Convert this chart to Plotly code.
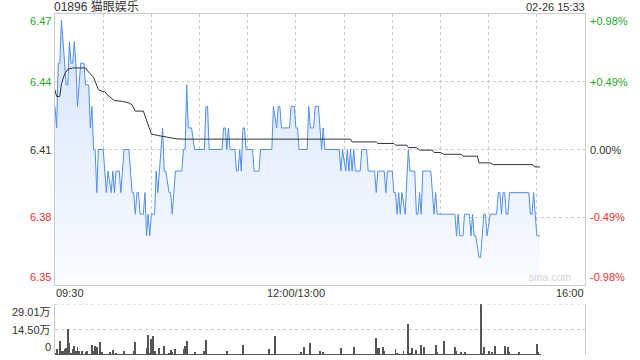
import plotly.graph_objects as go

# ---------------- data ----------------
title_text = "01896 猫眼娱乐"
stamp_text = "02-26 15:33"
prev_close = 6.41

# minutes on the trading axis (09:30 -> 0, 12:00/13:00 -> 150, 16:00 -> 330)
x_tick_pos = [0, 150, 330]
x_tick_text = ["09:30", "12:00/13:00", "16:00"]
x_grid_pos = [30, 60, 90, 120, 150, 180, 210, 240, 270, 300]

pct_levels = [0.98, 0.49, 0.0, -0.49, -0.98]
price_labels = ["6.47", "6.44", "6.41", "6.38", "6.35"]
pct_labels = ["+0.98%", "+0.49%", "0.00%", "-0.49%", "-0.98%"]

price_t = [0, 1, 2, 3, 4, 6, 7, 8, 9, 10, 11, 12, 13, 14, 16, 18, 19, 21, 22, 23,
           24, 25, 26, 27, 30, 32, 33, 35, 36, 37, 38, 40, 41, 43, 46, 48, 49, 50, 51, 52,
           53, 55, 56, 57, 58, 59, 60, 62, 63, 64, 65, 67, 68, 69, 71, 72, 73, 75, 79, 80,
           81, 82, 83, 85, 87, 93, 94, 95, 96, 104, 105, 106, 107, 108, 109, 112, 113, 114, 115, 116,
           117, 118, 119, 123, 124, 127, 128, 135, 136, 138, 139, 140, 141, 146, 147, 149, 150, 151, 152, 157,
           158, 159, 161, 162, 164, 166, 167, 168, 177, 178, 179, 181, 182, 183, 184, 185, 186, 187, 190, 191,
           194, 195, 199, 200, 201, 205, 206, 207, 210, 211, 212, 213, 214, 215, 216, 218, 220, 221, 224, 225,
           226, 227, 228, 229, 234, 236, 237, 238, 249, 250, 251, 252, 254, 255, 258, 259, 260, 261, 262, 264,
           265, 267, 268, 269, 271, 275, 276, 277, 278, 279, 280, 281, 282, 283, 295, 296, 297, 298, 300, 302]
price = [6.43, 6.42, 6.45, 6.45, 6.47, 6.45, 6.44, 6.44, 6.46, 6.45, 6.45, 6.46, 6.45, 6.43, 6.45, 6.45, 6.44, 6.44, 6.42, 6.43,
         6.41, 6.41, 6.39, 6.41, 6.41, 6.39, 6.40, 6.39, 6.40, 6.39, 6.40, 6.40, 6.39, 6.41, 6.41, 6.39, 6.39, 6.38, 6.39, 6.39,
         6.38, 6.38, 6.39, 6.37, 6.38, 6.37, 6.38, 6.38, 6.40, 6.39, 6.40, 6.42, 6.40, 6.40, 6.39, 6.39, 6.38, 6.40, 6.40, 6.41,
         6.41, 6.44, 6.42, 6.42, 6.41, 6.41, 6.43, 6.43, 6.41, 6.41, 6.42, 6.42, 6.41, 6.42, 6.41, 6.41, 6.40, 6.40, 6.41, 6.40,
         6.42, 6.42, 6.41, 6.41, 6.40, 6.40, 6.41, 6.41, 6.43, 6.42, 6.43, 6.43, 6.42, 6.42, 6.43, 6.43, 6.42, 6.42, 6.41, 6.41,
         6.43, 6.42, 6.42, 6.43, 6.43, 6.41, 6.42, 6.41, 6.41, 6.40, 6.41, 6.40, 6.41, 6.40, 6.41, 6.40, 6.41, 6.40, 6.40, 6.41,
         6.41, 6.40, 6.40, 6.39, 6.40, 6.40, 6.39, 6.40, 6.40, 6.39, 6.39, 6.38, 6.39, 6.38, 6.39, 6.38, 6.41, 6.40, 6.40, 6.38,
         6.38, 6.39, 6.38, 6.40, 6.40, 6.38, 6.39, 6.38, 6.38, 6.37, 6.38, 6.37, 6.37, 6.38, 6.38, 6.37, 6.38, 6.37, 6.37, 6.36,
         6.36, 6.38, 6.38, 6.37, 6.38, 6.38, 6.39, 6.39, 6.38, 6.39, 6.39, 6.38, 6.38, 6.39, 6.39, 6.38, 6.38, 6.39, 6.37, 6.37]

avg_t = [0, 1, 3, 4, 6, 8, 11, 19, 21, 24, 27, 29, 31, 32, 35, 37, 42, 46, 48, 50,
         55, 57, 58, 60, 64, 71, 76, 80, 184, 185, 200, 201, 211, 212, 219, 220, 225, 227, 235, 236,
         240, 242, 253, 254, 263, 264, 271, 273, 297, 299, 302]
avg_price = [6.4376, 6.4346, 6.4346, 6.4404, 6.4450, 6.4472, 6.4478, 6.4478, 6.4458, 6.4435,
             6.4378, 6.4370, 6.4369, 6.4358, 6.4338, 6.4327, 6.4323, 6.4316, 6.4307, 6.4278,
             6.4278, 6.4234, 6.4211, 6.4172, 6.4165, 6.4157, 6.4149, 6.4148, 6.4148, 6.4135,
             6.4135, 6.4128, 6.4128, 6.4120, 6.4120, 6.4109, 6.4109, 6.4097, 6.4097, 6.4086,
             6.4086, 6.4078, 6.4078, 6.4069, 6.4069, 6.4038, 6.4038, 6.4030, 6.4030, 6.4019, 6.4019]

# volume per minute, in 万 shares (index = minute on the trading axis)
volume = [1.2, 3.4, 0.8, 8.2, 2.5, 2.5, 3.4, 4.0, 14.8, 6.8,
          1.0, 3.4, 5.3, 2.5, 4.7, 2.5, 0.6, 2.5, 0.5, 1.5,
          2.5, 0.4, 0.7, 5.9, 2.5, 5.3, 4.4, 0.8, 7.2, 1.5,
          0.5, 0.3, 0.6, 0.4, 1.5, 0.5, 3.0, 0.3, 1.0, 0.4,
          0.6, 0.3, 0.5, 2.5, 0.4, 0.3, 0.6, 0.4, 0.5, 2.5,
          7.2, 0.4, 0.3, 0.5, 0.4, 0.3, 0.8, 4.0, 11.6, 1.2,
          9.1, 11.0, 2.5, 0.6, 0.4, 3.8, 0.5, 0.3, 5.3, 0.4,
          0.3, 1.0, 3.0, 2.0, 0.5, 3.4, 0.4, 0.3, 0.6, 0.5,
          3.4, 5.3, 8.2, 0.6, 0.4, 0.5, 0.3, 2.0, 0.4, 0.6,
          0.3, 0.5, 0.4, 2.5, 8.7, 0.5, 0.3, 0.6, 0.4, 0.3,
          0.5, 0.4, 0.3, 0.6, 0.4, 0.3, 0.5, 2.5, 0.8, 0.4,
          0.3, 0.5, 0.4, 0.6, 0.3, 0.5, 0.4, 5.9, 0.6, 0.4,
          0.3, 0.5, 0.4, 0.6, 0.3, 0.4, 0.5, 0.3, 0.6, 0.4,
          0.3, 0.5, 0.6, 3.4, 0.4, 0.3, 0.5, 10.6, 0.8, 0.4,
          0.5, 0.3, 0.4, 0.6, 0.3, 0.5, 0.4, 0.3, 0.6, 0.5,
          0.8, 0.4, 0.6, 1.5, 0.3, 4.7, 0.5, 0.4, 0.6, 6.8,
          0.5, 0.3, 0.4, 0.6, 0.3, 2.5, 0.4, 2.0, 0.5, 0.3,
          0.4, 0.6, 0.3, 0.5, 0.4, 0.3, 0.6, 0.4, 3.8, 0.5,
          0.3, 0.4, 0.6, 0.3, 0.5, 0.4, 4.4, 0.5, 0.3, 0.6,
          0.4, 0.3, 0.5, 0.4, 0.6, 0.3, 0.5, 0.4, 0.3, 0.8,
          9.5, 3.8, 3.8, 0.6, 4.4, 2.5, 0.4, 0.3, 0.5, 0.4,
          0.6, 0.8, 3.4, 1.0, 0.5, 0.4, 0.3, 2.5, 0.6, 0.8,
          17.8, 1.2, 4.0, 0.6, 0.4, 3.0, 0.5, 0.8, 5.9, 0.6,
          4.7, 0.5, 0.3, 0.4, 0.6, 0.3, 0.5, 5.9, 2.0, 0.5,
          0.4, 0.6, 8.2, 0.5, 0.3, 0.4, 0.6, 0.3, 0.5, 4.7,
          2.5, 0.4, 0.6, 2.0, 0.5, 2.0, 0.3, 0.4, 0.6, 0.5,
          0.3, 0.4, 0.6, 0.8, 0.5, 28.8, 1.0, 4.7, 0.6, 0.8,
          2.5, 0.5, 2.0, 0.6, 5.3, 0.4, 0.3, 0.6, 0.5, 0.4,
          5.3, 0.6, 4.4, 1.5, 0.4, 0.5, 0.3, 0.6, 0.4, 1.5,
          0.5, 0.3, 0.6, 0.4, 0.5, 0.3, 0.6, 0.4, 0.8, 0.5,
          6.2, 1.5, 0.6]
volume_t = list(range(len(volume)))
vol_max = 29.01
vol_levels = [29.01, 14.50, 0]
vol_labels = ["29.01万", "14.50万", "0"]

assert len(price_t) == len(price)
assert len(avg_t) == len(avg_price)

# ---------------- styles ----------------
FONT = "Liberation Sans, Arial, Noto Sans CJK SC, sans-serif"
GREEN = "#1fa81f"
RED = "#f03030"
DARK = "#333333"
BORDER = "#cccccc"
GRID = "#cccccc"

price_levels = [prev_close * (1 + p / 100) for p in pct_levels]
level_colors = [GREEN if p > 0 else (RED if p < 0 else DARK) for p in pct_levels]
y_lo, y_hi = price_levels[-1], price_levels[0]

fig = go.Figure()

fig.add_trace(go.Scatter(
    x=price_t, y=price, mode="lines",
    line=dict(color="#4f8fea", width=1),
    fill="tozeroy",
    fillgradient=dict(type="vertical", start=y_lo, stop=y_hi,
                      colorscale=[[0, "#fafcff"], [1, "#d4e3fa"]]),
    xaxis="x", yaxis="y", hoverinfo="skip"))

fig.add_trace(go.Scatter(
    x=avg_t, y=avg_price, mode="lines",
    line=dict(color="#333333", width=1),
    xaxis="x", yaxis="y", hoverinfo="skip"))

fig.add_trace(go.Bar(
    x=volume_t, y=volume, width=0.6,
    marker=dict(color="#555555", line=dict(width=0)),
    xaxis="x2", yaxis="y2", hoverinfo="skip"))

annotations = []
# left price labels and right percent labels
anchors = ["top", "middle", "middle", "middle", "bottom"]
for lvl, txt, ptxt, col, anc in zip(price_levels, price_labels, pct_labels, level_colors, anchors):
    annotations.append(dict(xref="paper", yref="y", x=0, y=lvl, text=txt, showarrow=False,
                            xanchor="right", yanchor=anc, xshift=-2,
                            yshift=1 if anc == "top" else 0,
                            font=dict(family=FONT, size=11, color=col)))
    annotations.append(dict(xref="paper", yref="y", x=1, y=lvl, text=ptxt, showarrow=False,
                            xanchor="left", yanchor=anc, xshift=3,
                            yshift=1 if anc == "top" else 0,
                            font=dict(family=FONT, size=11, color=col)))
# time labels
for pos, txt, xa in zip(x_tick_pos, x_tick_text, ["left", "center", "right"]):
    annotations.append(dict(xref="x", yref="paper", x=pos, y=0.2053, text=txt, showarrow=False,
                            xanchor=xa, yanchor="top", xshift=-1 if xa == "left" else (1 if xa == "right" else 0),
                            font=dict(family=FONT, size=11, color=DARK)))
# volume labels
for lvl, txt, anc in zip(vol_levels, vol_labels, ["top", "middle", "bottom"]):
    annotations.append(dict(xref="paper", yref="y2", x=0, y=lvl, text=txt, showarrow=False,
                            xanchor="right", yanchor=anc, xshift=-2,
                            font=dict(family=FONT, size=11, color=DARK)))
# title, time stamp, watermark
annotations.append(dict(xref="paper", yref="paper", x=0, y=1, text=title_text, showarrow=False,
                        xanchor="left", yanchor="middle", xshift=-2, yshift=7, borderpad=0,
                        font=dict(family=FONT, size=12, color=DARK)))
annotations.append(dict(xref="paper", yref="paper", x=1, y=1, text=stamp_text, showarrow=False,
                        xanchor="right", yanchor="middle", xshift=1, yshift=7, borderpad=0,
                        font=dict(family=FONT, size=11, color=DARK)))
annotations.append(dict(xref="paper", yref="y", x=0.977, y=y_lo, text="sina.com", showarrow=False,
                        xanchor="right", yanchor="bottom",
                        font=dict(family=FONT, size=10.5, color="#d4d4d4")))

fig.update_layout(
    width=640, height=360,
    margin=dict(l=55, r=55, t=14, b=5),
    paper_bgcolor="white", plot_bgcolor="rgba(0,0,0,0)",
    showlegend=False, bargap=0,
    font=dict(family=FONT, size=11, color=DARK),
    xaxis=dict(domain=[0, 1], range=[0, 330], anchor="y",
               tickmode="array", tickvals=x_grid_pos, showticklabels=False, ticks="",
               showgrid=True, gridcolor=GRID, griddash="dot", gridwidth=1,
               zeroline=False, showline=True, linecolor=BORDER, linewidth=1, mirror=True,
               fixedrange=True),
    yaxis=dict(domain=[0.2053, 1], range=[y_lo, y_hi], anchor="x",
               tickmode="array", tickvals=price_levels[1:4], showticklabels=False, ticks="",
               showgrid=True, gridcolor=GRID, griddash="dot", gridwidth=1,
               zeroline=False, showline=True, linecolor=BORDER, linewidth=1, mirror=True,
               fixedrange=True),
    xaxis2=dict(domain=[0, 1], range=[0, 330], anchor="y2",
                showticklabels=False, ticks="", showgrid=False, zeroline=False, showline=False,
                fixedrange=True),
    yaxis2=dict(domain=[0, 0.1496], range=[0, vol_max], anchor="x2",
                tickmode="array", tickvals=[vol_levels[1]], showticklabels=False, ticks="",
                showgrid=True, gridcolor=GRID, griddash="dot", gridwidth=1,
                zeroline=False, showline=True, linecolor=BORDER, linewidth=1, mirror=True,
                fixedrange=True),
    shapes=[dict(type="line", xref="x2", yref="y2", x0=0, x1=330, y0=vol_max, y1=vol_max,
                 line=dict(color=GRID, width=1, dash="dot"), layer="above")],
    annotations=annotations,
)

fig.write_html("out.html")
